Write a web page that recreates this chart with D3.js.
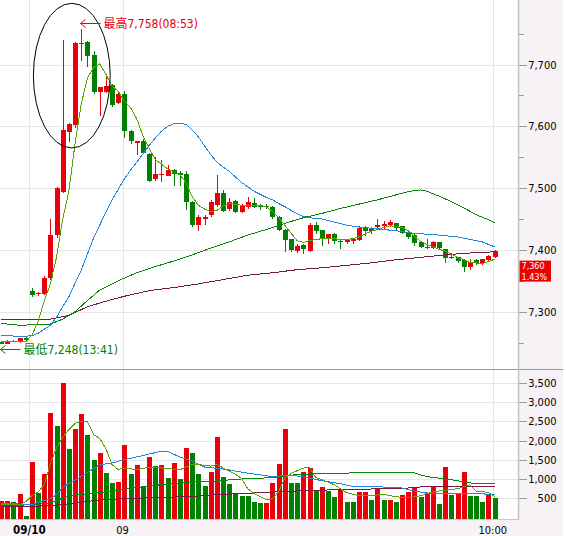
<!DOCTYPE html>
<html>
<head>
<meta charset="utf-8">
<script src="https://cdn.jsdelivr.net/npm/d3@7/dist/d3.min.js"></script>
<style>
html, body { margin: 0; padding: 0; background: #fff; }
svg { display: block; }
text { font-family: 'DejaVu Sans Condensed', 'DejaVu Sans', 'Noto Sans CJK TC', sans-serif; }
</style>
</head>
<body>
<svg id="chart" width="566" height="536"></svg>
<script>
'use strict';

// one bar per minute: 13:41-13:45 of the previous session, then 08:45-10:00
var opens  = [7251,7248,7253,7251,7258,7334,7328,7329,7354,7424,7494,7591,7602,7735,7736,7716,7656,7656,7667,7638,
              7652,7593,7573,7577,7555,7514,7521,7520,7530,7525,7523,7478,7440,7450,7456,7473,7492,7466,7479,7462,
              7470,7476,7473,7471,7470,7454,7433,7417,7398,7408,7398,7440,7432,7417,7426,7414,7413,7415,7416,7437,
              7430,7437,7438,7441,7443,7438,7428,7424,7412,7404,7403,7412,7401,7389,7388,7384,7373,7384,7378,7383,7389];
var highs  = [7252,7254,7254,7258,7259,7338,7332,7357,7450,7502,7740,7606,7737,7758,7738,7722,7664,7681,7668,7655,
              7657,7594,7577,7579,7556,7550,7545,7537,7531,7527,7527,7479,7456,7456,7480,7522,7497,7484,7480,7475,
              7485,7484,7475,7475,7471,7455,7434,7418,7410,7409,7443,7445,7433,7426,7427,7418,7418,7420,7438,7439,
              7437,7450,7446,7448,7444,7439,7430,7425,7413,7418,7415,7413,7402,7395,7389,7385,7385,7385,7386,7391,7400];
var lows   = [7248,7248,7251,7250,7253,7323,7325,7327,7352,7420,7492,7575,7597,7705,7696,7652,7617,7654,7632,7636,
              7581,7571,7554,7555,7510,7512,7510,7519,7504,7504,7464,7437,7430,7440,7454,7470,7462,7463,7459,7460,
              7466,7468,7464,7466,7450,7430,7397,7397,7395,7393,7397,7425,7406,7410,7410,7402,7410,7410,7415,7422,
              7426,7432,7434,7437,7433,7426,7418,7407,7403,7402,7401,7400,7378,7386,7379,7364,7367,7376,7376,7382,7387];
var closes = [7248,7253,7252,7257,7254,7327,7331,7355,7424,7500,7594,7604,7735,7733,7714,7656,7663,7665,7634,7652,
              7593,7577,7577,7556,7512,7523,7523,7529,7523,7521,7478,7440,7454,7454,7478,7492,7463,7477,7462,7471,
              7477,7470,7469,7470,7453,7432,7416,7400,7406,7402,7440,7431,7417,7426,7415,7413,7416,7417,7435,7430,
              7434,7440,7442,7445,7435,7427,7421,7411,7404,7403,7412,7403,7387,7387,7382,7373,7381,7378,7385,7390,7399];

var volumes = [403,421,386,605,15,1447,623,1131,2719,2368,3500,1789,2289,2693,2132,1500,1684,1158,895,921,
               1895,1131,1368,789,1579,1342,1368,1026,1421,982,1816,1684,1131,816,1184,2105,1053,868,614,553,
               553,395,368,368,895,1395,2289,895,895,1184,1289,711,789,684,526,737,395,395,658,658,
               447,763,447,447,395,579,658,763,526,632,816,342,1316,579,632,1184,553,553,395,579,500];
// 1 = red volume bar, 0 = green
var volumeUp = [1,1,0,1,0,1,0,1,1,0,1,0,1,1,0,0,1,0,0,1,
                1,0,1,0,1,0,1,0,1,0,1,0,0,0,1,1,0,0,0,0,
                0,0,0,1,1,1,1,0,0,1,1,0,1,0,0,1,0,0,1,1,
                0,1,0,1,0,1,1,1,0,1,1,0,1,0,1,1,0,0,0,1,0];

// price moving averages
var maShort = [7251,7251,7251,7251,7251,7262,7284,7317,7345,7388,7450,7495,7572,7636,7678,7695,7701,7684,7665,7657,
               7640,7630,7612,7585,7565,7546,7539,7531,7526,7522,7508,7486,7472,7466,7462,7464,7471,7475,7474,7472,
               7472,7472,7472,7470,7462,7452,7440,7427,7415,7412,7415,7417,7418,7418,7418,7417,7417,7418,7421,7426,
               7430,7433,7436,7439,7438,7436,7431,7422,7414,7409,7405,7401,7398,7393,7388,7384,7380,7379,7378,7381,7385];
var maMid = [[0,7262],[3,7260],[5,7261],[6,7265],[8,7278],[9,7291],[10,7308],[11,7324],[12,7346],[13,7367],
             [14,7393],[15,7419],[16,7440],[17,7461],[18,7481],[19,7498],[20,7515],[21,7529],[22,7542],[23,7555],
             [24,7569],[25,7581],[26,7592],[27,7600],[28,7604],[29,7605],[30,7603],[31,7594],[32,7583],[33,7568],
             [34,7554],[35,7542],[36,7534],[37,7527],[38,7518],[39,7509],[40,7502],[41,7495],[42,7490],[43,7485],
             [44,7481],[45,7475],[46,7470],[47,7464],[48,7459],[49,7454],[50,7452],[52,7450],[54,7445],[56,7440],
             [58,7437],[60,7435],[62,7433],[64,7431],[66,7428],[68,7426],[70,7425],[72,7423],[74,7421],[76,7417],
             [78,7413],[80,7405]];
var maLong = [[0,7281],[3,7278],[8,7280],[10,7288],[12,7300],[14,7318],[16,7335],[19,7350],[22,7363],[25,7373],
              [28,7382],[31,7392],[34,7403],[37,7413],[40,7424],[43,7433],[46,7443],[49,7452],[52,7459],[55,7467],
              [58,7474],[61,7481],[64,7489],[66,7494],[67,7496],[68,7497],[69,7495],[71,7487],[73,7478],[75,7468],
              [77,7457],[79,7449],[80,7444]];
var maLonger = [[0,7288],[5,7287],[8,7288],[11,7294],[14,7308],[17,7317],[20,7325],[24,7334],[28,7339],[32,7345],
                [36,7352],[40,7359],[44,7363],[48,7368],[52,7371],[56,7375],[60,7379],[64,7384],[68,7388],[72,7392],
                [76,7395],[80,7397]];

// volume moving averages
var volMaShort = [[0,316],[3,316],[4,395],[5,553],[6,645],[7,842],[8,1395],[9,1816],[10,2079],[11,2289],
                  [12,2447],[13,2508],[14,2500],[15,2158],[16,2053],[17,1789],[18,1368],[19,1237],[20,1282],[22,1237],
                  [24,1303],[26,1282],[28,1250],[29,1237],[31,1368],[32,1368],[34,1329],[35,1368],[37,1197],[38,1118],
                  [39,1000],[40,737],[41,618],[42,526],[43,447],[44,474],[45,658],[46,1026],[47,1131],[48,1210],
                  [49,1276],[50,1303],[51,1026],[52,974],[54,842],[56,632],[58,553],[60,553],[62,592],[64,526],
                  [66,500],[68,553],[70,658],[72,697],[74,737],[76,842],[77,666],[78,658],[79,639],[80,534]];
var volMaMid = [[0,361],[5,316],[6,382],[8,474],[9,579],[10,776],[12,960],[13,1053],[14,1158],[16,1368],
                [18,1408],[20,1500],[23,1605],[25,1684],[26,1718],[27,1711],[29,1571],[31,1461],[33,1303],[36,1255],
                [40,1145],[44,1053],[47,1092],[49,1045],[52,947],[55,868],[57,797],[60,797],[65,755],[67,671],
                [70,605],[74,605],[76,624],[80,579]];
var volMaLong = [[0,289],[5,316],[8,361],[11,553],[14,605],[18,666],[21,750],[26,842],[31,913],[34,929],
                 [39,992],[44,1026],[46,1079],[48,1105],[52,1131],[57,1150],[60,1150],[67,1150],[69,1053],[71,1013],
                 [74,947],[76,887],[80,868]];
var volMaLonger = [[0,255],[8,289],[13,376],[16,447],[23,492],[31,534],[34,571],[42,632],[50,692],[60,729],
                   [66,755],[68,782],[80,797]];

var priceTicks = [7300, 7400, 7500, 7600, 7700];
var priceMinorTicks = [7250, 7350, 7450, 7550, 7650, 7750];
var volumeTicks = [500, 1000, 1500, 2000, 2500, 3000, 3500];
var timeLabels = ['09/10', '09', '10:00'];
var timeLabelBars = [4.6, 19.7, 79.7];

var highNote = ['最高7,758(08:53)', 13, 7758];
var lowNote = ['最低7,248(13:41)', 0, 7248];
var highlightZone = [5.25, 17.7, 7565, 7799];   // bar from, bar to, price low, price high
var lastQuote = [7360, '7,360', '1.43%'];

var RED = '#e8000b', GREEN = '#008000';
var MA_COLORS = ['#5ba300', '#1e88e0', '#0a840a', '#7d1746'];

var svg = d3.select('#chart');
var axisX = 518.5, panelRight = 563, priceBottom = 369, volBottom = 519;

var xScale = d3.scaleLinear().domain([0, 80]).range([1, 494.6]);
var yPrice = d3.scaleLinear().domain([7300, 7700]).range([311.7, 64.5]);
var yVol = d3.scaleLinear().domain([0, 3500]).range([516.8, 383.3]);

// backgrounds
svg.append('rect').attr('x', 519).attr('y', 0).attr('width', panelRight - 519).attr('height', 536).attr('fill', '#f6f2f5');
svg.append('rect').attr('x', 0).attr('y', volBottom + 1).attr('width', panelRight).attr('height', 536 - volBottom - 1).attr('fill', '#f6f2f5');

var defs = svg.append('defs');
defs.append('clipPath').attr('id', 'clipPrice').append('rect').attr('x', 0).attr('y', 0).attr('width', 518).attr('height', priceBottom);
defs.append('clipPath').attr('id', 'clipVol').append('rect').attr('x', 0).attr('y', priceBottom + 1).attr('width', 518).attr('height', volBottom - priceBottom - 1);

var grid = svg.append('g').attr('stroke', '#e6e6e6').attr('stroke-width', 1).attr('shape-rendering', 'crispEdges');
grid.selectAll('line.hp').data(priceTicks).enter().append('line')
    .attr('x1', 0).attr('x2', axisX)
    .attr('y1', function (d) { return Math.round(yPrice(d)) + 0.5; })
    .attr('y2', function (d) { return Math.round(yPrice(d)) + 0.5; });
grid.selectAll('line.hv').data(volumeTicks).enter().append('line')
    .attr('x1', 0).attr('x2', axisX)
    .attr('y1', function (d) { return Math.round(yVol(d)) + 0.5; })
    .attr('y2', function (d) { return Math.round(yVol(d)) + 0.5; });
grid.selectAll('line.vt').data(timeLabelBars).enter().append('line')
    .attr('x1', function (d) { return Math.round(xScale(d)) + 0.5; })
    .attr('x2', function (d) { return Math.round(xScale(d)) + 0.5; })
    .attr('y1', 0).attr('y2', volBottom);

var bars = d3.range(closes.length).map(function (i) {
    return { i: i, o: opens[i], h: highs[i], l: lows[i], c: closes[i], v: volumes[i], vu: volumeUp[i] };
});

// candles
var pricePanel = svg.append('g').attr('clip-path', 'url(#clipPrice)').attr('shape-rendering', 'crispEdges');
var candle = pricePanel.selectAll('g.candle').data(bars).enter().append('g')
    .attr('fill', function (d) { return d.c > d.o ? RED : GREEN; });
candle.append('rect')
    .attr('x', function (d) { return Math.round(xScale(d.i)); })
    .attr('width', 1)
    .attr('y', function (d) { return Math.round(yPrice(d.h)); })
    .attr('height', function (d) { return Math.max(1, Math.round(yPrice(d.l)) - Math.round(yPrice(d.h))); });
candle.append('rect')
    .attr('x', function (d) { return Math.round(xScale(d.i)) - 2; })
    .attr('width', 5)
    .attr('y', function (d) { return Math.round(yPrice(Math.max(d.o, d.c))); })
    .attr('height', function (d) {
        return Math.max(1, Math.round(yPrice(Math.min(d.o, d.c))) - Math.round(yPrice(Math.max(d.o, d.c))));
    });

// volume bars
var volPanel = svg.append('g').attr('clip-path', 'url(#clipVol)').attr('shape-rendering', 'crispEdges');
volPanel.selectAll('rect').data(bars).enter().append('rect')
    .attr('x', function (d) { return Math.round(xScale(d.i)) - 2; })
    .attr('width', 5)
    .attr('y', function (d) { return Math.round(yVol(d.v)); })
    .attr('height', function (d) { return volBottom - Math.round(yVol(d.v)); })
    .attr('fill', function (d) { return d.vu ? RED : GREEN; });

// moving average lines
var priceLine = d3.line().x(function (d) { return xScale(d[0]); }).y(function (d) { return yPrice(d[1]); });
var volLine = d3.line().x(function (d) { return xScale(d[0]); }).y(function (d) { return yVol(d[1]); });
var shortPairs = maShort.map(function (v, i) { return [i, v]; });

[maLonger, maLong, maMid, shortPairs].forEach(function (series, k) {
    pricePanel.append('path').datum(series)
        .attr('d', priceLine).attr('fill', 'none')
        .attr('stroke', MA_COLORS[3 - k]).attr('stroke-width', 1)
        .attr('shape-rendering', 'optimizeSpeed');
});
[volMaLonger, volMaLong, volMaMid, volMaShort].forEach(function (series, k) {
    volPanel.append('path').datum(series)
        .attr('d', volLine).attr('fill', 'none')
        .attr('stroke', MA_COLORS[3 - k]).attr('stroke-width', 1)
        .attr('shape-rendering', 'optimizeSpeed');
});

// frame lines
svg.append('line').attr('x1', 0).attr('x2', panelRight).attr('y1', priceBottom + 0.5).attr('y2', priceBottom + 0.5)
    .attr('stroke', '#9a9a9a');
svg.append('line').attr('x1', 0).attr('x2', axisX).attr('y1', volBottom + 0.5).attr('y2', volBottom + 0.5)
    .attr('stroke', '#c8c8c8');
svg.append('line').attr('x1', axisX).attr('x2', axisX).attr('y1', 0).attr('y2', volBottom + 1)
    .attr('stroke', '#c4c4c4').attr('stroke-width', 1.5);

// right axes
function styleAxis(g) {
    g.select('.domain').remove();
    g.selectAll('.tick line').attr('stroke', '#9a9a9a').attr('shape-rendering', 'crispEdges');
    g.selectAll('.tick text').attr('fill', '#000').attr('font-size', '11px')
        .attr('font-family', null).attr('text-anchor', 'end').attr('x', 38);
    g.attr('font-family', null).attr('font-size', null);
}
svg.append('g').attr('transform', 'translate(' + axisX + ',0)')
    .call(d3.axisRight(yPrice).tickValues(priceMinorTicks).tickSize(5).tickFormat(''))
    .call(styleAxis);
svg.append('g').attr('transform', 'translate(' + axisX + ',0)')
    .call(d3.axisRight(yPrice).tickValues(priceTicks).tickSize(8).tickFormat(d3.format(',')))
    .call(styleAxis);
svg.append('g').attr('transform', 'translate(' + axisX + ',0)')
    .call(d3.axisRight(yVol).tickValues(volumeTicks).tickSize(8).tickFormat(d3.format(',')))
    .call(styleAxis);

// time labels
svg.selectAll('text.time').data(timeLabels).enter().append('text')
    .attr('x', function (d, k) { return xScale(timeLabelBars[k]); })
    .attr('y', 533.5)
    .attr('text-anchor', 'middle')
    .attr('font-size', function (d, k) { return k === 0 ? '11.5px' : '11px'; })
    .attr('font-weight', function (d, k) { return k === 0 ? 'bold' : 'normal'; })
    .attr('fill', '#000')
    .text(function (d) { return d; });

// last price tag, two lines
var tagTop = yPrice(lastQuote[0]) - 14;
svg.append('rect').attr('x', 519.5).attr('y', tagTop).attr('width', 31.5).attr('height', 21).attr('fill', '#ee0000');
svg.append('text').attr('x', 521.5).attr('y', tagTop + 8.8).attr('fill', '#fff').attr('font-size', '9px').text(lastQuote[1]);
svg.append('text').attr('x', 521.5).attr('y', tagTop + 19.4).attr('fill', '#fff').attr('font-size', '9px').text(lastQuote[2]);

// highlight ellipse around the opening spike
svg.append('ellipse')
    .attr('cx', (xScale(highlightZone[0]) + xScale(highlightZone[1])) / 2)
    .attr('cy', (yPrice(highlightZone[2]) + yPrice(highlightZone[3])) / 2)
    .attr('rx', (xScale(highlightZone[1]) - xScale(highlightZone[0])) / 2)
    .attr('ry', (yPrice(highlightZone[2]) - yPrice(highlightZone[3])) / 2)
    .attr('fill', 'none').attr('stroke', '#000').attr('stroke-width', 1);

// high / low notes
function note(info, dy, color) {
    var tipX = Math.max(0.5, Math.round(xScale(info[1])) - 0.5);
    var y = Math.round(yPrice(info[2]) + dy) + 0.5;
    svg.append('path')
        .attr('d', 'M' + tipX + ',' + y + 'H' + (tipX + 20) +
            'M' + (tipX + 5) + ',' + (y - 4) + 'L' + tipX + ',' + y + 'L' + (tipX + 5) + ',' + (y + 4))
        .attr('fill', 'none').attr('stroke', color).attr('stroke-width', 1);
    svg.append('text')
        .attr('x', tipX + 23).attr('y', y + 4.5)
        .attr('fill', color).attr('font-size', '12px')
        .text(info[0]);
}
note(highNote, -5.5, RED);
note(lowNote, 5, GREEN);
</script>
</body>
</html>
